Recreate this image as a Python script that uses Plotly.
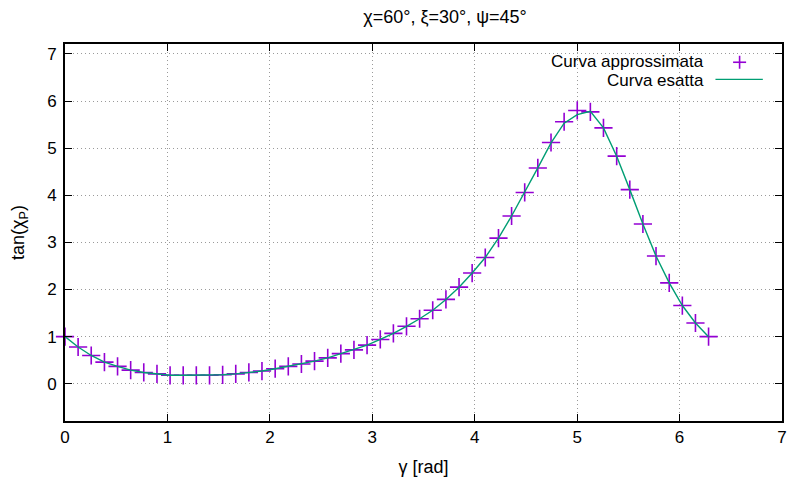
import plotly.graph_objects as go

# Sample angles gamma (rad), 50 evenly spaced samples over [0, 2*pi]
gamma = [0.000, 0.128, 0.256, 0.385, 0.513, 0.641, 0.769, 0.898, 1.026, 1.154,
         1.282, 1.411, 1.539, 1.667, 1.795, 1.923, 2.052, 2.180, 2.308, 2.436,
         2.565, 2.693, 2.821, 2.949, 3.078, 3.206, 3.334, 3.462, 3.590, 3.719,
         3.847, 3.975, 4.103, 4.232, 4.360, 4.488, 4.616, 4.745, 4.873, 5.001,
         5.129, 5.257, 5.386, 5.514, 5.642, 5.770, 5.899, 6.027, 6.155, 6.283]

# tan(chi_P): approximated values
tan_approx = [1.00, 0.78, 0.60, 0.46, 0.37, 0.29, 0.24, 0.21, 0.18, 0.18,
              0.18, 0.18, 0.19, 0.21, 0.24, 0.27, 0.32, 0.37, 0.42, 0.48,
              0.55, 0.64, 0.72, 0.82, 0.94, 1.07, 1.22, 1.38, 1.56, 1.79,
              2.05, 2.35, 2.68, 3.09, 3.56, 4.06, 4.58, 5.12, 5.56, 5.80,
              5.77, 5.43, 4.83, 4.12, 3.39, 2.71, 2.14, 1.66, 1.29, 1.00]

# tan(chi_P): exact values
tan_exact = [1.00, 0.78, 0.60, 0.46, 0.37, 0.29, 0.24, 0.21, 0.18, 0.18,
             0.18, 0.18, 0.19, 0.21, 0.24, 0.27, 0.32, 0.37, 0.42, 0.48,
             0.55, 0.64, 0.72, 0.82, 0.94, 1.07, 1.22, 1.38, 1.56, 1.79,
             2.05, 2.35, 2.68, 3.09, 3.56, 4.06, 4.58, 5.11, 5.53, 5.71,
             5.78, 5.43, 4.83, 4.12, 3.39, 2.71, 2.14, 1.66, 1.29, 1.00]

x_ticks = [0, 1, 2, 3, 4, 5, 6, 7]
y_ticks = [0, 1, 2, 3, 4, 5, 6, 7]

title_text = "χ=60°, ξ=30°, ψ=45°"
x_label = "γ [rad]"
y_label = "tan(χ<sub>P</sub>)"
name_approx = "Curva approssimata"
name_exact = "Curva esatta"

PURPLE = "#9400D3"
GREEN = "#009E73"
FONT = "Liberation Sans, Arial, sans-serif"

fig = go.Figure()
fig.add_trace(go.Scatter(
    x=gamma, y=tan_approx, mode="markers", name=name_approx,
    marker=dict(symbol="cross-thin", size=13, line=dict(color=PURPLE, width=1.6)),
    cliponaxis=False, showlegend=False,
))
fig.add_trace(go.Scatter(
    x=gamma, y=tan_exact, mode="lines", name=name_exact,
    line=dict(color=GREEN, width=1.4),
    cliponaxis=False, showlegend=False,
))

axis_common = dict(
    showline=True, linecolor="black", linewidth=1.6, mirror="ticks",
    ticks="inside", ticklen=7, tickwidth=1.2, tickcolor="black",
    showgrid=True, gridcolor="#9a9a9a", griddash="1px,3px", gridwidth=1,
    zeroline=False, tickfont=dict(family=FONT, size=17, color="black"),
)

fig.update_xaxes(range=[0, 7], tickvals=x_ticks, ticktext=[str(v) for v in x_ticks],
                 title=dict(text=x_label, font=dict(family=FONT, size=18, color="black"), standoff=14),
                 **axis_common)
fig.update_yaxes(range=[-0.79, 7.21], tickvals=y_ticks, ticktext=[str(v) for v in y_ticks],
                 ticklabelstandoff=3,
                 title=dict(text=y_label, font=dict(family=FONT, size=18, color="black"), standoff=18),
                 **axis_common)

# Key drawn in the top-right corner: labels on the left, samples on the right
def px_x(p):
    return (p - 65) / 722.0

def px_y(p):
    return (422 - p) / 378.0

row1, row2 = px_y(61.5), px_y(80.5)
annotations = [
    dict(text=name_approx, x=px_x(710), y=row1, xref="paper", yref="paper",
         xanchor="right", yanchor="middle", showarrow=False,
         font=dict(family=FONT, size=17, color="black")),
    dict(text=name_exact, x=px_x(710), y=row2, xref="paper", yref="paper",
         xanchor="right", yanchor="middle", showarrow=False,
         font=dict(family=FONT, size=17, color="black")),
]
shapes = [
    dict(type="line", xref="paper", yref="paper", xsizemode="pixel", ysizemode="pixel",
         xanchor=px_x(744.3), yanchor=px_y(62.3), x0=-6.5, x1=6.5, y0=0, y1=0,
         line=dict(color=PURPLE, width=1.6)),
    dict(type="line", xref="paper", yref="paper", xsizemode="pixel", ysizemode="pixel",
         xanchor=px_x(744.3), yanchor=px_y(62.3), x0=0, x1=0, y0=-6.5, y1=6.5,
         line=dict(color=PURPLE, width=1.6)),
    dict(type="line", xref="paper", yref="paper",
         x0=px_x(720), x1=px_x(767.7), y0=px_y(79.5), y1=px_y(79.5),
         line=dict(color=GREEN, width=1.4)),
]

fig.update_layout(
    width=792, height=479,
    margin=dict(l=65, r=5, t=44, b=57),
    paper_bgcolor="white", plot_bgcolor="white",
    title=dict(text=title_text, x=445 / 792, xref="container", xanchor="center",
               y=1 - 17 / 479, yref="container", yanchor="middle",
               font=dict(family=FONT, size=18, color="black")),
    annotations=annotations, shapes=shapes,
    showlegend=False,
)

fig.write_html("out.html")
